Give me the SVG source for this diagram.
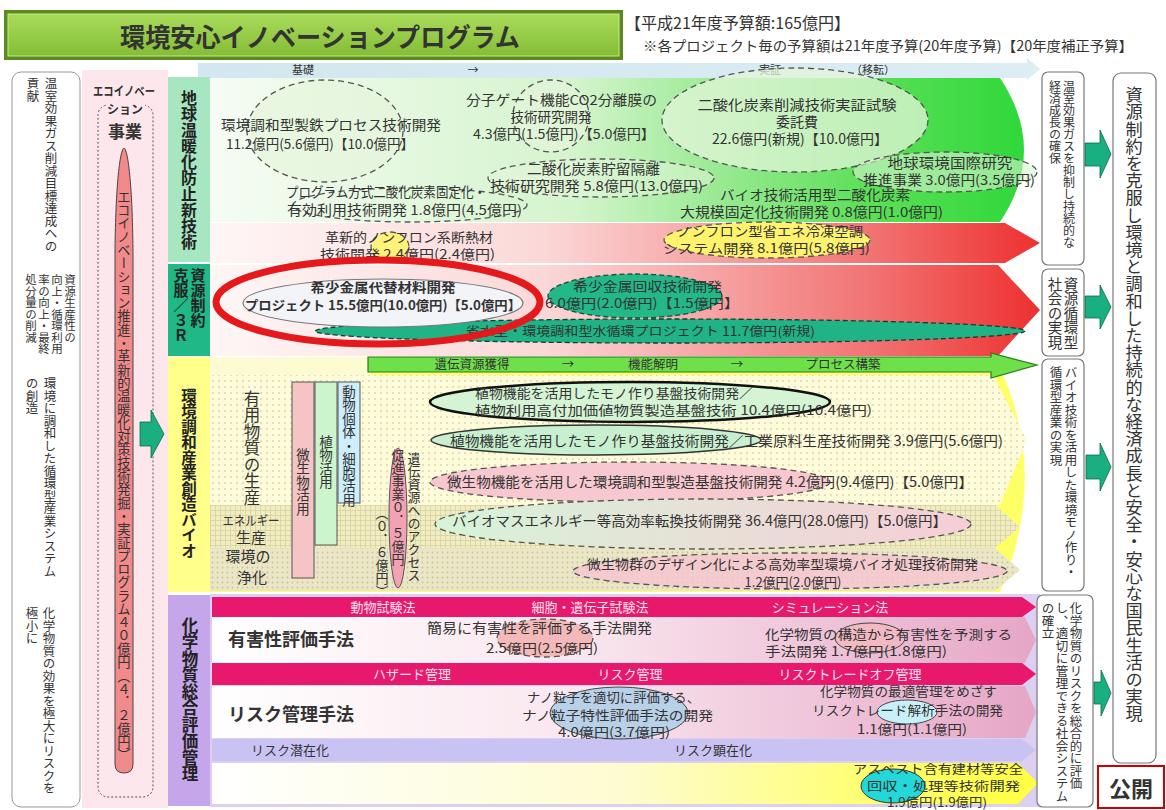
<svg xmlns="http://www.w3.org/2000/svg" width="1166" height="810" viewBox="0 0 1166 810">
<defs>
<style>
text{font-family:"Noto Sans CJK JP","Noto Sans",sans-serif;fill:#333;}
.v{writing-mode:vertical-rl;}
.lab{font-weight:700;fill:#222;}
.de{stroke:#555;stroke-width:1.3;stroke-dasharray:6 4;}
.ra{fill:#1aaf80;stroke:#0d6b4c;stroke-width:0.8;}
.rb{fill:#fff;stroke:#777;stroke-width:1.2;}
.bar{fill:#e8186c;}
.bt{fill:#ffe3ee;font-size:13px;}
.s1{font-size:13.5px;}
.s2{font-size:13px;}
.s3{font-size:12.5px;}
</style>
<linearGradient id="gTitle" x1="0" y1="0" x2="0" y2="1"><stop offset="0" stop-color="#a9db5a"/><stop offset="1" stop-color="#84bd36"/></linearGradient>
<linearGradient id="gBlue" x1="0" x2="1"><stop offset="0" stop-color="#d2e7ef"/><stop offset="1" stop-color="#dcedf3"/></linearGradient>
<linearGradient id="gGreen" x1="0" x2="1"><stop offset="0" stop-color="#f6fcf4"/><stop offset="0.45" stop-color="#d4f4cc"/><stop offset="0.8" stop-color="#5ee05a"/><stop offset="1" stop-color="#2fd83a"/></linearGradient>
<linearGradient id="gRed" x1="0" x2="1"><stop offset="0" stop-color="#fff6f6"/><stop offset="0.4" stop-color="#fbd8d8"/><stop offset="0.8" stop-color="#f27272"/><stop offset="1" stop-color="#ee3030"/></linearGradient>
<linearGradient id="gChem" x1="0" x2="1"><stop offset="0" stop-color="#ffffff"/><stop offset="0.45" stop-color="#f9e6ee"/><stop offset="1" stop-color="#e6a6c6"/></linearGradient>
<linearGradient id="gYel" x1="0" x2="1"><stop offset="0" stop-color="#ffffff"/><stop offset="0.5" stop-color="#fdfcd0"/><stop offset="0.8" stop-color="#ffff70"/><stop offset="1" stop-color="#ffff40"/></linearGradient>
<linearGradient id="gBio" x1="0" x2="1"><stop offset="0" stop-color="#d6f4d8"/><stop offset="1" stop-color="#f7cdd6"/></linearGradient>
<pattern id="dots" width="6" height="6" patternUnits="userSpaceOnUse"><rect width="6" height="6" fill="#fdfbda"/><circle cx="3" cy="3" r="0.9" fill="#d9d3a4"/></pattern>
<pattern id="grid" width="5" height="5" patternUnits="userSpaceOnUse"><rect width="5" height="5" fill="#f1edc2"/><path d="M0,0.5H5M0.5,0V5" stroke="#d8d2a0" stroke-width="0.8"/></pattern>
<pattern id="dots2" width="5" height="5" patternUnits="userSpaceOnUse"><rect width="5" height="5" fill="#ebe7c6"/><circle cx="2.5" cy="2.5" r="0.9" fill="#c9c39a"/></pattern>
</defs>
<rect width="1166" height="810" fill="#fff"/>

<!-- left columns -->
<g id="left-goals">
<rect x="12" y="72" width="68" height="735" rx="9" fill="#fff" stroke="#999"/>
<text class="v" x="51" y="77" font-size="12.5" fill="#444">温室効果ガス削減目標達成への</text>
<text class="v" x="33" y="77" font-size="12.5" fill="#444">貢献</text>
<text class="v" x="70" y="274" font-size="11.5">資源生産性の</text>
<text class="v" x="57" y="274" font-size="11.5">向上・循環利用</text>
<text class="v" x="44" y="274" font-size="11.5">率の向上・最終</text>
<text class="v" x="31" y="274" font-size="11.5">処分量の削減</text>
<text class="v" x="50" y="377" font-size="12.5">環境に調和した循環型産業システム</text>
<text class="v" x="32" y="377" font-size="12.5">の創造</text>
<text class="v" x="49" y="607" font-size="12.5">化学物質の効果を極大にリスクを</text>
<text class="v" x="32" y="607" font-size="12.5">極小に</text>
</g>
<g id="eco-innovation">
<rect x="82" y="70" width="86" height="738" fill="#fde7ec"/>
<text x="124" y="96" font-size="12.5" font-weight="700" text-anchor="middle" textLength="62" lengthAdjust="spacingAndGlyphs">エコイノベー</text>
<rect x="98" y="105" width="55" height="692" rx="10" fill="none" stroke="#555" stroke-dasharray="2 2"/>
<rect x="106" y="100" width="39" height="17" fill="#fde7ec"/>
<text x="125" y="114" font-size="12" font-weight="700" text-anchor="middle">ション</text>
<text x="125" y="138" font-size="17" font-weight="700" text-anchor="middle">事業</text>
<path d="M124,148 C129,150 133,200 133,260 L133,764 Q133,773 124,773 Q115,773 115,764 L115,260 C115,200 119,150 124,148 Z" fill="#f2898a" stroke="#444" stroke-width="1"/>
<text class="v" x="124" y="190" font-size="13.3">エコイノベーション推進・革新的温暖化対策技術発掘・実証プログラム４０億円（４．２億円）</text>
</g>

<!-- section backgrounds -->
<g id="backgrounds">
<path d="M198,63 H1027 V58 L1040,69 L1027,80 V78 H198 Z" fill="url(#gBlue)"/>
<text x="303" y="74" font-size="11" text-anchor="middle">基礎</text>
<text x="473" y="74" font-size="11" text-anchor="middle">→</text>
<text x="770" y="74" font-size="11" text-anchor="middle">実証</text>
<text x="873" y="74" font-size="11" text-anchor="middle">（移転）</text>
<path d="M210,78 H1000 Q1048,150 1000,222 H210 Z" fill="url(#gGreen)"/>
<path d="M210,223 H1005 L1040,243 L1005,263 H210 Z" fill="url(#gRed)"/>
<path d="M210,265 H998 L1040,310 L998,356 H210 Z" fill="url(#gRed)"/>
<path d="M210,357 H995 Q1052,470 1000,592 H210 Z" fill="#ffff66"/>
<rect x="210" y="357" width="160" height="18" fill="#fdfbd2"/>
<path d="M210,375 H993 L1027,440 L1000,505 H210 Z" fill="url(#dots)"/>
<path d="M210,505 H995 L1020,527 L995,548 H210 Z" fill="url(#grid)"/>
<path d="M210,548 H995 L1020,570 L995,591 H210 Z" fill="url(#dots2)"/>
<rect x="210" y="594" width="830" height="213" fill="#dccff2"/>
<path class="bar" d="M212,597 H1022 L1036,607 L1022,617 H212 Z"/>
<path d="M212,617 H1025 L1036,640 L1025,663 H212 Z" fill="url(#gChem)"/>
<path class="bar" d="M212,663 H1022 L1036,674 L1022,685 H212 Z"/>
<path d="M212,686 H1025 L1036,712 L1025,738 H212 Z" fill="url(#gChem)"/>
<path d="M212,739 H1022 L1036,750 L1022,761 H212 Z" fill="#c9c3f3"/>
<path d="M212,763 H1018 L1038,783 L1018,804 H212 Z" fill="url(#gYel)"/>
</g>

<!-- section labels -->
<g id="label-warming"><rect x="168" y="77" width="42" height="185" fill="#a6e6c0"/><text class="v lab" x="189" y="90" font-size="16">地球温暖化防止新技術</text></g>
<g id="label-3r"><rect x="168" y="264" width="42" height="92" fill="#1fb886"/><text class="v lab" x="198" y="268" font-size="15">資源制約</text><text class="v lab" x="181" y="268" font-size="15">克服／３Ｒ</text></g>
<g id="label-bio"><rect x="168" y="357" width="42" height="235" fill="#ffff8a"/><text class="v lab" x="189" y="388" font-size="15.5">環境調和産業創造バイオ</text></g>
<g id="label-chem"><rect x="168" y="595" width="42" height="211" fill="#c6a6ea"/><text class="v lab" x="190" y="617" font-size="16.5">化学物質総合評価管理</text></g>

<!-- section 1 nodes -->
<g id="n-seitetsu">
<ellipse cx="325" cy="131" rx="78" ry="51" fill="#e6f5dc" fill-opacity="0.7" class="de"/>
<text class="s1" x="221" y="130" textLength="220" lengthAdjust="spacingAndGlyphs">環境調和型製鉄プロセス技術開発</text>
<text class="s1" x="226" y="149" textLength="188" lengthAdjust="spacingAndGlyphs">11.2億円(5.6億円)【10.0億円】</text>
</g>
<g id="n-bunshi">
<ellipse cx="551" cy="116" rx="38" ry="36" fill="#e6f5dc" fill-opacity="0.6" class="de"/>
<text class="s1" x="466" y="105" textLength="191" lengthAdjust="spacingAndGlyphs">分子ゲート機能CO2分離膜の</text>
<text class="s1" x="551" y="122" text-anchor="middle">技術研究開発</text>
<text class="s1" x="473" y="139" textLength="182" lengthAdjust="spacingAndGlyphs">4.3億円(1.5億円)【5.0億円】</text>
</g>
<g id="n-jissho">
<ellipse cx="795" cy="120" rx="133" ry="52" fill="#e3f5da" fill-opacity="0.75" class="de"/>
<text x="797" y="110" font-size="14" text-anchor="middle" textLength="199" lengthAdjust="spacingAndGlyphs">二酸化炭素削減技術実証試験</text>
<text x="797" y="127" font-size="14" text-anchor="middle">委託費</text>
<text x="800" y="144" font-size="14" text-anchor="middle" textLength="176" lengthAdjust="spacingAndGlyphs">22.6億円(新規)【10.0億円】</text>
</g>
<g id="n-chozou">
<ellipse cx="601" cy="178" rx="113" ry="19" fill="#e6f5dc" fill-opacity="0.5" class="de"/>
<text class="s1" x="527" y="174" textLength="133" lengthAdjust="spacingAndGlyphs">二酸化炭素貯留隔離</text>
<text class="s1" x="490" y="191" textLength="213" lengthAdjust="spacingAndGlyphs">技術研究開発 5.8億円(13.0億円)</text>
</g>
<g id="n-kokusai">
<ellipse cx="945" cy="172" rx="92" ry="20" fill="#d8f5d0" fill-opacity="0.6" class="de"/>
<text class="s1" x="950" y="168" text-anchor="middle" textLength="125" lengthAdjust="spacingAndGlyphs">地球環境国際研究</text>
<text class="s1" x="863" y="185" textLength="172" lengthAdjust="spacingAndGlyphs">推進事業 3.0億円(3.5億円)</text>
</g>
<g id="n-program">
<ellipse cx="410" cy="205" rx="117" ry="17" fill="none" class="de"/>
<text class="s1" x="286" y="197" textLength="200" lengthAdjust="spacingAndGlyphs">プログラム方式二酸化炭素固定化・</text>
<text class="s1" x="287" y="215" textLength="235" lengthAdjust="spacingAndGlyphs">有効利用技術開発 1.8億円(4.5億円)</text>
</g>
<g id="n-bio-co2">
<text class="s1" x="720" y="200" textLength="190" lengthAdjust="spacingAndGlyphs">バイオ技術活用型二酸化炭素</text>
<text class="s1" x="680" y="217" textLength="263" lengthAdjust="spacingAndGlyphs">大規模固定化技術開発 0.8億円(1.0億円)</text>
</g>
<g id="n-dannetsu">
<ellipse cx="390" cy="247" rx="19" ry="15" fill="#fff27a" class="de"/>
<text class="s2" x="325" y="242" textLength="168" lengthAdjust="spacingAndGlyphs">革新的ノンフロン系断熱材</text>
<text class="s2" x="320" y="259" textLength="175" lengthAdjust="spacingAndGlyphs">技術開発 2.4億円(2.4億円)</text>
</g>
<g id="n-reitou">
<ellipse cx="767" cy="240" rx="103" ry="18" fill="#fff36e" class="de"/>
<text class="s2" x="677" y="236" textLength="186" lengthAdjust="spacingAndGlyphs">ノンフロン型省エネ冷凍空調</text>
<text class="s2" x="663" y="253" textLength="207" lengthAdjust="spacingAndGlyphs">システム開発 8.1億円(5.8億円)</text>
</g>

<!-- section 2 nodes -->
<g id="n-mizu">
<ellipse cx="670" cy="331" rx="355" ry="12" fill="#1fb386" stroke="#1d3a30" stroke-width="1.3" stroke-dasharray="5 3"/>
<text x="466" y="336" font-size="12.5" fill="#1a2a24" textLength="349" lengthAdjust="spacingAndGlyphs">省水型・環境調和型水循環プロジェクト 11.7億円(新規)</text>
</g>
<g id="n-kisho-kaishu">
<ellipse cx="635" cy="296" rx="87" ry="22" fill="#22b888" stroke="#1a4a3a" stroke-width="1.3" stroke-dasharray="5 3"/>
<text class="s2" x="573" y="291" textLength="149" lengthAdjust="spacingAndGlyphs">希少金属回収技術開発</text>
<text class="s2" x="545" y="308" textLength="194" lengthAdjust="spacingAndGlyphs">6.0億円(2.0億円)【1.5億円】</text>
</g>
<g id="n-kisho-daitai">
<ellipse cx="383" cy="303" rx="140" ry="24" fill="#f3f4f8" stroke="#777" stroke-width="1.2"/>
<text x="383" y="292" font-size="13" font-weight="700" fill="#2a5cc4" text-anchor="middle" textLength="145" lengthAdjust="spacingAndGlyphs">希少金属代替材料開発</text>
<text x="245" y="310" font-size="13" font-weight="700" fill="#2a5cc4" textLength="276" lengthAdjust="spacingAndGlyphs">プロジェクト 15.5億円(10.0億円)【5.0億円】</text>
<ellipse cx="378" cy="302" rx="162" ry="42" fill="none" stroke="#e5191c" stroke-width="7"/>
</g>

<!-- section 3 nodes -->
<g id="n-process">
<path d="M368,357 H991 V353 L1037,365 L991,378 V372 H368 Z" fill="#6ee04a" stroke="#2a7a1a" stroke-width="1.2"/>
<text x="472" y="369" font-size="12.5" text-anchor="middle">遺伝資源獲得</text>
<text x="568" y="369" font-size="12.5" text-anchor="middle">→</text>
<text x="653" y="369" font-size="12.5" text-anchor="middle">機能解明</text>
<text x="737" y="369" font-size="12.5" text-anchor="middle">→</text>
<text x="843" y="369" font-size="12.5" text-anchor="middle">プロセス構築</text>
</g>
<g id="bio-rows">
<text class="v" x="252" y="390" font-size="16.5" fill="#222">有用物質の生産</text>
<text x="251" y="525" font-size="13" text-anchor="middle" textLength="57" lengthAdjust="spacingAndGlyphs" fill="#222">エネルギー</text>
<text x="251" y="543" font-size="15" text-anchor="middle" fill="#222">生産</text>
<text x="248" y="562" font-size="15" text-anchor="middle" fill="#222">環境の</text>
<text x="252" y="583" font-size="15" text-anchor="middle" fill="#222">浄化</text>
</g>
<g id="n-bisei"><rect x="292" y="382" width="22" height="196" fill="#f6c4c4" stroke="#555"/><text class="v" x="303" y="448" font-size="13.5">微生物活用</text></g>
<g id="n-shokubutsu"><rect x="315" y="382" width="22" height="163" fill="#cdf5cd" stroke="#555"/><text class="v" x="326" y="435" font-size="13.5">植物活用</text></g>
<g id="n-doubutsu"><rect x="338" y="382" width="22" height="121" fill="#cdeefc" stroke="#555"/><text class="v" x="349" y="385" font-size="13.5">動物個体・細胞活用</text></g>
<g id="n-access">
<ellipse cx="398" cy="518" rx="9" ry="70" fill="#f2a2b4" stroke="#555"/>
<text class="v" x="414" y="452" font-size="13">遺伝資源へのアクセス</text>
<text class="v" x="398" y="449" font-size="13">促進事業０．５億円</text>
<text class="v" x="382" y="507" font-size="13">（０．６億円）</text>
</g>
<g id="n-bio-a">
<ellipse cx="630" cy="402" rx="200" ry="20" fill="#d4f4d4" stroke="#111" stroke-width="2.5"/>
<text class="s2" x="475" y="398" textLength="278" lengthAdjust="spacingAndGlyphs">植物機能を活用したモノ作り基盤技術開発／</text>
<text class="s2" x="475" y="415" textLength="397" lengthAdjust="spacingAndGlyphs">植物利用高付加価値物質製造基盤技術 10.4億円(10.4億円)</text>
</g>
<g id="n-bio-b">
<ellipse cx="596" cy="440" rx="165" ry="15" fill="#c8f0d0" stroke="#333" stroke-width="1.5"/>
<text x="450" y="446" font-size="14" textLength="553" lengthAdjust="spacingAndGlyphs">植物機能を活用したモノ作り基盤技術開発／工業原料生産技術開発 3.9億円(5.6億円)</text>
</g>
<g id="n-bio-c">
<ellipse cx="630" cy="482" rx="200" ry="20" fill="#f8c8d0" class="de"/>
<text x="447" y="487" font-size="14" textLength="526" lengthAdjust="spacingAndGlyphs">微生物機能を活用した環境調和型製造基盤技術開発 4.2億円(9.4億円)【5.0億円】</text>
</g>
<g id="n-bio-d">
<ellipse cx="703" cy="524" rx="268" ry="25" fill="url(#gBio)" class="de"/>
<text x="452" y="526" font-size="14" textLength="495" lengthAdjust="spacingAndGlyphs">バイオマスエネルギー等高効率転換技術開発 36.4億円(28.0億円)【5.0億円】</text>
</g>
<g id="n-bio-e">
<ellipse cx="790" cy="571" rx="217" ry="18" fill="#f6c6d0" fill-opacity="0.85" class="de"/>
<text class="s2" x="587" y="569" textLength="391" lengthAdjust="spacingAndGlyphs">微生物群のデザイン化による高効率型環境バイオ処理技術開発</text>
<text class="s2" x="793" y="587" text-anchor="middle">1.2億円(2.0億円)</text>
</g>

<!-- section 4 nodes -->
<g id="chem-bars">
<text class="bt" x="383" y="612" text-anchor="middle">動物試験法</text>
<text class="bt" x="590" y="612" text-anchor="middle">細胞・遺伝子試験法</text>
<text class="bt" x="830" y="612" text-anchor="middle">シミュレーション法</text>
<text class="bt" x="412" y="679" text-anchor="middle">ハザード管理</text>
<text class="bt" x="630" y="679" text-anchor="middle">リスク管理</text>
<text class="bt" x="850" y="679" text-anchor="middle">リスクトレードオフ管理</text>
<text x="290" y="755" font-size="13" fill="#eeeefe" text-anchor="middle">リスク潜在化</text>
<text x="713" y="755" font-size="13" fill="#eeeefe" text-anchor="middle">リスク顕在化</text>
<text x="228" y="646" font-size="18" font-weight="700" fill="#222">有害性評価手法</text>
<text x="228" y="721" font-size="18" font-weight="700" fill="#222">リスク管理手法</text>
</g>
<g id="n-kanni">
<ellipse cx="545" cy="638" rx="48" ry="19" fill="#f2b0b0" fill-opacity="0.85" class="de"/>
<text x="427" y="633" font-size="14" textLength="225" lengthAdjust="spacingAndGlyphs">簡易に有害性を評価する手法開発</text>
<text class="s2" x="486" y="653" textLength="112" lengthAdjust="spacingAndGlyphs">2.5億円(2.5億円)</text>
</g>
<g id="n-kouzou">
<ellipse cx="870" cy="638" rx="35" ry="15" fill="#f2b8c0" fill-opacity="0.85" stroke="#444"/>
<text class="s2" x="765" y="639" textLength="247" lengthAdjust="spacingAndGlyphs">化学物質の構造から有害性を予測する</text>
<text class="s2" x="765" y="656" textLength="182" lengthAdjust="spacingAndGlyphs">手法開発 1.7億円(1.8億円)</text>
</g>
<g id="n-nano">
<ellipse cx="619" cy="713" rx="69" ry="26" fill="#b8d0e8" stroke="#444"/>
<text class="s2" x="527" y="702" textLength="173" lengthAdjust="spacingAndGlyphs">ナノ粒子を適切に評価する、</text>
<text class="s2" x="522" y="720" textLength="191" lengthAdjust="spacingAndGlyphs">ナノ粒子特性評価手法の開発</text>
<text class="s2" x="558" y="737" textLength="112" lengthAdjust="spacingAndGlyphs">4.0億円(3.7億円)</text>
</g>
<g id="n-tradeoff">
<ellipse cx="907" cy="712" rx="30" ry="12" fill="#c8f0f8" stroke="#444"/>
<text class="s2" x="820" y="696" textLength="177" lengthAdjust="spacingAndGlyphs">化学物質の最適管理をめざす</text>
<text class="s2" x="812" y="715" textLength="191" lengthAdjust="spacingAndGlyphs">リスクトレード解析手法の開発</text>
<text class="s2" x="857" y="734" textLength="110" lengthAdjust="spacingAndGlyphs">1.1億円(1.1億円)</text>
</g>
<g id="n-asbestos">
<ellipse cx="893" cy="786" rx="32" ry="17" fill="#22d8d8" stroke="#333"/>
<text class="s3" x="853" y="774" textLength="170" lengthAdjust="spacingAndGlyphs">アスベスト含有建材等安全</text>
<text class="s3" x="867" y="791" textLength="153" lengthAdjust="spacingAndGlyphs">回収・処理等技術開発</text>
<text class="s3" x="887" y="807" textLength="100" lengthAdjust="spacingAndGlyphs">1.9億円(1.9億円)</text>
</g>

<!-- right column -->
<g id="r-warming"><rect class="rb" x="1042" y="72" width="42" height="193" rx="6"/><text class="v" x="1069" y="80" font-size="12">温室効果ガスを抑制し持続的な</text><text class="v" x="1055" y="80" font-size="12">経済成長の確保</text></g>
<g id="r-3r"><rect class="rb" x="1042" y="269" width="42" height="87" rx="6"/><text class="v" x="1071" y="277" font-size="14.5">資源循環型</text><text class="v" x="1055" y="277" font-size="14.5">社会の実現</text></g>
<g id="r-bio"><rect class="rb" x="1042" y="359" width="42" height="232" rx="6"/><text class="v" x="1071" y="366" font-size="12.5">バイオ技術を活用した環境モノ作り・</text><text class="v" x="1056" y="366" font-size="12.5">循環型産業の実現</text></g>
<g id="r-chem"><rect class="rb" x="1037" y="595" width="56" height="212" rx="6"/><text class="v" x="1076" y="602" font-size="12.5">化学物質のリスクを総合的に評価</text><text class="v" x="1062" y="602" font-size="12.5">し、適切に管理できる社会システム</text><text class="v" x="1048" y="602" font-size="12.5">の確立</text></g>
<g id="r-goal"><rect class="rb" x="1113" y="73" width="43" height="690" rx="8"/><text class="v" x="1134" y="86" font-size="17.2" fill="#444">資源制約を克服し環境と調和した持続的な経済成長と安全・安心な国民生活の実現</text></g>
<g id="koukai"><rect x="1098" y="766" width="66" height="42" fill="#fff" stroke="#c00" stroke-width="2"/><text x="1131" y="797" font-size="22" font-weight="700" fill="#c8161d" text-anchor="middle">公開</text></g>

<!-- connectors -->
<g id="connectors">
<path class="ra" d="M140,422 H151 V410 L164,434 L151,458 V446 H140 Z"/>
<path class="ra" d="M1085,143 H1100 V130 L1111,154 L1100,178 V166 H1085 Z"/>
<path class="ra" d="M1085,296 H1100 V285 L1111,307 L1100,329 V318 H1085 Z"/>
<path class="ra" d="M1086,455 H1100 V443 L1111,467 L1100,491 V479 H1086 Z"/>
<path class="ra" d="M1094,682 H1101 V670 L1111,693 L1101,716 V704 H1094 Z"/>
</g>

<!-- title -->
<g id="title">
<rect x="4" y="10" width="619" height="50" fill="#5a8a20"/>
<rect x="8" y="14" width="611" height="42" fill="url(#gTitle)" stroke="#c4ea88" stroke-width="1"/>
<text x="320" y="47" font-size="26" font-weight="700" fill="#1e2a10" text-anchor="middle" textLength="400" lengthAdjust="spacingAndGlyphs">環境安心イノベーションプログラム</text>
</g>
<g id="budget">
<text x="625" y="29" font-size="16" fill="#111" textLength="225" lengthAdjust="spacingAndGlyphs">【平成21年度予算額:165億円】</text>
<text x="643" y="51" font-size="14" fill="#111" textLength="490" lengthAdjust="spacingAndGlyphs">※各プロジェクト毎の予算額は21年度予算(20年度予算)【20年度補正予算】</text>
</g>
</svg>
